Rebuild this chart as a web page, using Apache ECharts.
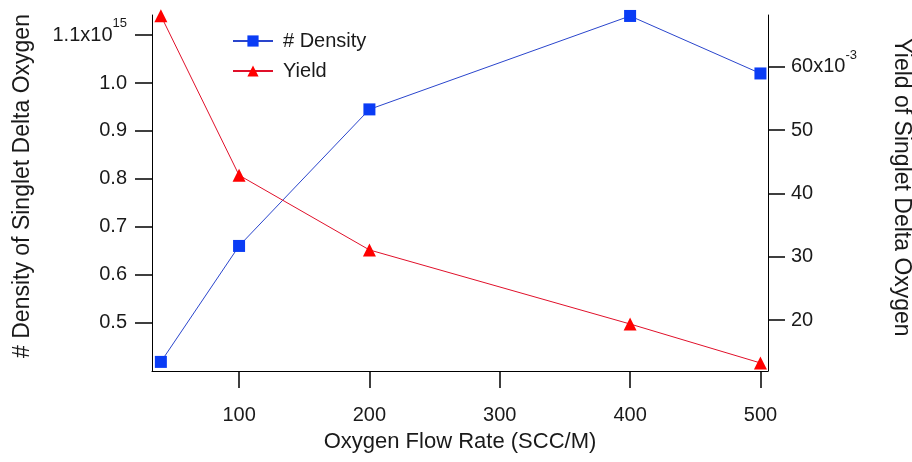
<!DOCTYPE html>
<html>
<head>
<meta charset="utf-8">
<script src="https://cdn.jsdelivr.net/npm/echarts@6/dist/echarts.min.js"></script>
<style>
    html, body { margin: 0; padding: 0; background: #fff; }
    #tpl-echarts-A { width: 912px; height: 462px; }
</style>
</head>
<body>
<div id="tpl-echarts-A"></div>
<script>
// 数据
var flowRate = [40, 100, 200, 400, 500];
var density = [0.418, 0.660, 0.945, 1.140, 1.020];   // x10^15
var yieldVals = [68.1, 42.9, 31.1, 19.4, 13.25];      // x10^-3
var xTicks = [100, 200, 300, 400, 500];
var leftTicks = [0.5, 0.6, 0.7, 0.8, 0.9, 1.0, 1.1];
var rightTicks = [20, 30, 40, 50, 60];

var font = 'Liberation Sans, Arial, sans-serif';
var txt = '#1a1a1a';

var pairs = function(xs, ys) {
    var out = [];
    for (var i = 0; i < xs.length; i++) {
        out.push([xs[i], ys[i]]);
    }
    return out;
};

var echartsA = echarts.init(document.getElementById('tpl-echarts-A'));
option = {
    animation: false,
    backgroundColor: '#fff',
    textStyle: { fontFamily: font, color: txt },
    grid: {
        left: 152,
        right: 144,
        top: 15,
        bottom: 91,
        containLabel: false,
        outerBoundsMode: 'none'
    },
    legend: {
        orient: 'vertical',
        left: 227,
        top: 26,
        itemWidth: 40,
        itemHeight: 14,
        itemGap: 10,
        textStyle: { fontSize: 20, color: txt, fontFamily: font, padding: [0, 0, 0, 5] },
        data: ['# Density', 'Yield']
    },
    xAxis: [{
        type: 'value',
        min: 33.2,
        max: 505.8,
        name: 'Oxygen Flow Rate (SCC/M)',
        nameLocation: 'middle',
        nameGap: 60,
        nameTextStyle: { fontSize: 22, color: txt, fontFamily: font },
        axisLine: { show: true, lineStyle: { color: '#000', width: 1 } },
        axisTick: { show: true, length: 17, customValues: xTicks, lineStyle: { color: '#000', width: 1.5 } },
        axisLabel: { customValues: xTicks, margin: 34, fontSize: 20, color: txt, fontFamily: font },
        splitLine: { show: false }
    }],
    yAxis: [{
        type: 'value',
        position: 'left',
        min: 0.399,
        max: 1.142,
        name: '# Density of Singlet Delta Oxygen',
        nameLocation: 'middle',
        nameGap: 118,
        nameRotate: 90,
        nameTextStyle: { fontSize: 23, color: txt, fontFamily: font, padding: [0, 0, 0, 14] },
        axisLine: { show: true, lineStyle: { color: '#000', width: 1 } },
        axisTick: { show: true, length: 17, customValues: leftTicks, lineStyle: { color: '#000', width: 1.5 } },
        axisLabel: {
            customValues: leftTicks,
            margin: 25,
            fontSize: 20,
            color: txt,
            fontFamily: font,
            formatter: function(v) {
                if (Math.abs(v - 1.1) < 1e-6) {
                    return '{b|1.1x10}{s|15}';
                }
                return v.toFixed(1);
            },
            rich: {
                b: { fontSize: 20, color: txt, fontFamily: font },
                s: { fontSize: 13, color: txt, fontFamily: font, padding: [0, 0, 24, 0] }
            }
        },
        splitLine: { show: false }
    }, {
        type: 'value',
        position: 'right',
        min: 11.98,
        max: 68.2,
        name: 'Yield of Singlet Delta Oxygen',
        nameLocation: 'middle',
        nameGap: 122,
        nameRotate: -90,
        nameTextStyle: { fontSize: 23, color: txt, fontFamily: font, padding: [0, 11, 0, 0] },
        axisLine: { show: true, lineStyle: { color: '#000', width: 1 } },
        axisTick: { show: true, length: 17, customValues: rightTicks, lineStyle: { color: '#000', width: 1.5 } },
        axisLabel: {
            customValues: rightTicks,
            margin: 23,
            fontSize: 20,
            color: txt,
            fontFamily: font,
            formatter: function(v) {
                if (v === 60) {
                    return '{b|60x10}{s|-3}';
                }
                return String(v);
            },
            rich: {
                b: { fontSize: 20, color: txt, fontFamily: font },
                s: { fontSize: 13, color: txt, fontFamily: font, padding: [0, 0, 24, 0] }
            }
        },
        splitLine: { show: false }
    }],
    series: [{
        name: '# Density',
        type: 'line',
        yAxisIndex: 0,
        data: pairs(flowRate, density),
        symbol: 'rect',
        symbolSize: 12,
        lineStyle: { color: '#2a45cc', width: 1 },
        itemStyle: { color: '#0a3cf5' }
    }, {
        name: 'Yield',
        type: 'line',
        yAxisIndex: 1,
        data: pairs(flowRate, yieldVals),
        symbol: 'triangle',
        symbolSize: 13,
        lineStyle: { color: '#e0102a', width: 1 },
        itemStyle: { color: '#ff0000' }
    }]
};
echartsA.setOption(option);
</script>
</body>
</html>
